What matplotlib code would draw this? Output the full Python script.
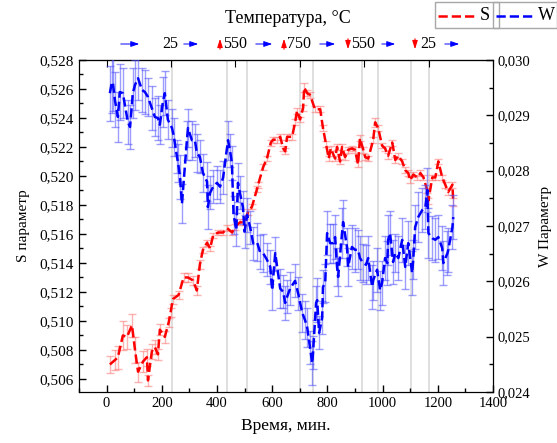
import numpy as np
import matplotlib.pyplot as plt
from matplotlib.ticker import MultipleLocator, FuncFormatter
from matplotlib.patches import Rectangle
from matplotlib.lines import Line2D

plt.rcParams['font.family'] = ['Liberation Serif', 'DejaVu Serif']

# S parameter (left axis)
s_time = [12, 30, 41, 59, 74, 92, 103, 114, 132, 146, 150, 164, 175, 186, 193, 211, 225, 232,
          240, 261, 279, 295, 313, 327, 338, 349, 364, 375, 386, 404, 422, 437, 455, 465, 483,
          501, 512, 527, 545, 549, 567, 581, 595, 603, 618, 629, 640, 647, 654, 672, 683, 690,
          701, 712, 716, 727, 737, 755, 774, 784, 795, 805, 812, 828, 835, 846, 853, 864, 875,
          889, 900, 911, 918, 930, 937, 948, 966, 973, 984, 998, 1009, 1020, 1035, 1046, 1057,
          1071, 1082, 1093, 1100, 1111, 1126, 1137, 1148, 1162, 1166, 1180, 1191, 1202, 1216,
          1227, 1238, 1253, 1256]
s_val = [0.5070, 0.5073, 0.5075, 0.5090, 0.5089, 0.5097, 0.5080, 0.5065, 0.5072, 0.5075, 0.5059,
         0.5079, 0.5082, 0.5077, 0.5094, 0.5089, 0.5099, 0.5106, 0.5115, 0.5118, 0.5130, 0.5130,
         0.5128, 0.5121, 0.5139, 0.5149, 0.5154, 0.5150, 0.5159, 0.5161, 0.5161, 0.5164, 0.5161,
         0.5165, 0.5168, 0.5168, 0.5175, 0.5179, 0.5191, 0.5194, 0.5206, 0.5212, 0.5223, 0.5225,
         0.5225, 0.5227, 0.5219, 0.5217, 0.5227, 0.5227, 0.5237, 0.5245, 0.5239, 0.5247, 0.5261,
         0.5257, 0.5256, 0.5246, 0.5246, 0.5233, 0.5222, 0.5212, 0.5219, 0.5212, 0.5220, 0.5210,
         0.5220, 0.5213, 0.5218, 0.5219, 0.5218, 0.5208, 0.5226, 0.5218, 0.5213, 0.5212, 0.5225,
         0.5237, 0.5233, 0.5221, 0.5219, 0.5214, 0.5223, 0.5211, 0.5214, 0.5210, 0.5204, 0.5202,
         0.5197, 0.5201, 0.5199, 0.5202, 0.5199, 0.5190, 0.5183, 0.5199, 0.5199, 0.5210, 0.5199,
         0.5194, 0.5189, 0.5194, 0.5182]
s_err = [0.0006, 0.0007, 0.0008, 0.0010, 0.0008, 0.0008, 0.0009, 0.0007, 0.0007, 0.0006, 0.0004,
         0.0005, 0.0005, 0.0004, 0.0004, 0.0004, 0.0003, 0.0003, 0.0003, 0.0003, 0.0003, 0.0003,
         0.0003, 0.0003, 0.0003, 0.0002, 0.0002, 0.0002, 0.0002, 0.0002, 0.0002, 0.0002, 0.0002,
         0.0002, 0.0002, 0.0002, 0.0002, 0.0002, 0.0002, 0.0002, 0.0002, 0.0002, 0.0002, 0.0002,
         0.0002, 0.0002, 0.0002, 0.0002, 0.0002, 0.0002, 0.0002, 0.0002, 0.0002, 0.0002, 0.0003,
         0.0002, 0.0002, 0.0002, 0.0002, 0.0002, 0.0002, 0.0002, 0.0002, 0.0002, 0.0002, 0.0002,
         0.0002, 0.0002, 0.0002, 0.0002, 0.0002, 0.0002, 0.0002, 0.0002, 0.0002, 0.0002, 0.0002,
         0.0003, 0.0002, 0.0002, 0.0002, 0.0002, 0.0002, 0.0002, 0.0002, 0.0002, 0.0002, 0.0002,
         0.0002, 0.0002, 0.0002, 0.0002, 0.0002, 0.0002, 0.0002, 0.0002, 0.0002, 0.0002, 0.0002,
         0.0002, 0.0002, 0.0002, 0.0003]

# W parameter (right axis)
w_time = [12, 19, 23, 30, 41, 48, 59, 77, 85, 95, 103, 114, 128, 139, 150, 164, 175, 186, 193,
          204, 211, 222, 237, 244, 255, 259, 266, 273, 291, 295, 309, 320, 327, 338, 349, 364,
          367, 375, 386, 400, 411, 422, 440, 447, 454, 460, 470, 476, 483, 494, 500, 509, 520,
          531, 545, 556, 567, 581, 593, 600, 611, 629, 640, 647, 654, 665, 683, 694, 709, 719,
          727, 737, 745, 748, 759, 763, 770, 781, 784, 792, 799, 810, 821, 828, 835, 839, 853,
          857, 871, 875, 889, 900, 911, 918, 930, 940, 948, 962, 966, 980, 991, 998, 1009, 1017,
          1020, 1027, 1038, 1046, 1057, 1071, 1082, 1093, 1107, 1111, 1118, 1129, 1144, 1155,
          1162, 1166, 1180, 1191, 1202, 1216, 1220, 1235, 1238, 1253, 1256]
w_val = [0.02940, 0.02960, 0.02958, 0.02928, 0.02897, 0.02942, 0.02940, 0.02888, 0.02879, 0.02940,
         0.02955, 0.02967, 0.02946, 0.02942, 0.02933, 0.02913, 0.02897, 0.02895, 0.02883, 0.02924,
         0.02940, 0.02892, 0.02877, 0.02861, 0.02825, 0.02814, 0.02789, 0.02740, 0.02855, 0.02877,
         0.02855, 0.02855, 0.02832, 0.02825, 0.02796, 0.02780, 0.02734, 0.02760, 0.02771, 0.02778,
         0.02771, 0.02787, 0.02855, 0.02837, 0.02814, 0.02720, 0.02693, 0.02778, 0.02760, 0.02734,
         0.02690, 0.02720, 0.02698, 0.02669, 0.02671, 0.02653, 0.02651, 0.02639, 0.02626, 0.02584,
         0.02651, 0.02587, 0.02581, 0.02561, 0.02572, 0.02587, 0.02601, 0.02578, 0.02543, 0.02530,
         0.02516, 0.02481, 0.02452, 0.02471, 0.02561, 0.02566, 0.02507, 0.02534, 0.02590, 0.02597,
         0.02687, 0.02669, 0.02669, 0.02680, 0.02626, 0.02608, 0.02687, 0.02707, 0.02662, 0.02626,
         0.02662, 0.02657, 0.02657, 0.02642, 0.02633, 0.02630, 0.02642, 0.02590, 0.02602, 0.02621,
         0.02584, 0.02597, 0.02642, 0.02633, 0.02675, 0.02687, 0.02635, 0.02651, 0.02642, 0.02675,
         0.02626, 0.02669, 0.02615, 0.02639, 0.02698, 0.02716, 0.02729, 0.02734, 0.02765, 0.02687,
         0.02678, 0.02675, 0.02680, 0.02660, 0.02633, 0.02651, 0.02657, 0.02698, 0.02716]
w_err = [0.00050, 0.00055, 0.00050, 0.00050, 0.00045, 0.00050, 0.00045, 0.00040, 0.00040, 0.00045,
         0.00045, 0.00040, 0.00040, 0.00040, 0.00035, 0.00040, 0.00035, 0.00040, 0.00035, 0.00045,
         0.00040, 0.00035, 0.00035, 0.00035, 0.00030, 0.00035, 0.00040, 0.00035, 0.00035, 0.00035,
         0.00035, 0.00030, 0.00035, 0.00030, 0.00035, 0.00035, 0.00040, 0.00030, 0.00030, 0.00030,
         0.00030, 0.00030, 0.00035, 0.00030, 0.00030, 0.00035, 0.00030, 0.00035, 0.00030, 0.00030,
         0.00030, 0.00030, 0.00030, 0.00030, 0.00035, 0.00030, 0.00035, 0.00030, 0.00030, 0.00035,
         0.00030, 0.00035, 0.00030, 0.00030, 0.00030, 0.00030, 0.00030, 0.00030, 0.00035, 0.00035,
         0.00035, 0.00030, 0.00040, 0.00030, 0.00030, 0.00040, 0.00030, 0.00030, 0.00030, 0.00035,
         0.00040, 0.00035, 0.00035, 0.00040, 0.00035, 0.00035, 0.00045, 0.00040, 0.00035, 0.00035,
         0.00040, 0.00040, 0.00035, 0.00040, 0.00035, 0.00035, 0.00040, 0.00040, 0.00035, 0.00040,
         0.00035, 0.00040, 0.00040, 0.00040, 0.00045, 0.00040, 0.00040, 0.00035, 0.00040, 0.00040,
         0.00040, 0.00040, 0.00040, 0.00035, 0.00040, 0.00045, 0.00040, 0.00040, 0.00040, 0.00045,
         0.00040, 0.00040, 0.00040, 0.00040, 0.00040, 0.00040, 0.00040, 0.00040, 0.00040]

# temperature step boundaries (grey lines)
step_times = [236, 436, 509, 700, 748, 927, 982, 1103, 1167]

comma3 = FuncFormatter(lambda v, p: f"{v:.3f}".replace('.', ','))

fig = plt.figure(figsize=(5.57, 4.43), dpi=100)
ax = fig.add_axes([0.1418, 0.1151, 0.7433, 0.7495])

for t in step_times:
    ax.axvline(t, color='#dcdcdc', lw=1.3, zorder=0)

ax.errorbar(s_time, s_val, yerr=s_err, color='red', ls='--', lw=1.8,
            ecolor=(1, 0.45, 0.45, 0.55), elinewidth=1, capsize=3, capthick=1, zorder=3)
ax.set_xlim(-100, 1400)
ax.set_ylim(0.5051, 0.528)
ax.xaxis.set_major_locator(MultipleLocator(200))
ax.xaxis.set_minor_locator(MultipleLocator(100))
ax.yaxis.set_major_locator(MultipleLocator(0.002))
ax.yaxis.set_minor_locator(MultipleLocator(0.001))
ax.yaxis.set_major_formatter(comma3)
ax.tick_params(which='both', direction='in', top=False, right=False)
ax.tick_params(which='major', length=5, width=1)
ax.tick_params(which='minor', length=3, width=1)
ax.tick_params(axis='y', labelsize=11)
ax.tick_params(axis='x', labelsize=10.5)
ax.set_xlabel('Время, мин.', fontsize=12.5, labelpad=6)
ax.set_ylabel('S параметр', fontsize=11, labelpad=7)

ax2 = ax.twinx()
ax2.errorbar(w_time, w_val, yerr=w_err, color='blue', ls='--', lw=1.8,
             ecolor=(0.3, 0.3, 1, 0.55), elinewidth=1, capsize=3, capthick=1, zorder=3)
ax2.set_ylim(0.024, 0.030)
ax2.yaxis.set_major_locator(MultipleLocator(0.001))
ax2.yaxis.set_minor_locator(MultipleLocator(0.0005))
ax2.yaxis.set_major_formatter(comma3)
ax2.tick_params(which='both', direction='in', labelsize=10.5)
ax2.tick_params(which='major', length=5, width=1)
ax2.tick_params(which='minor', length=3, width=1)
ax2.set_ylabel('W Параметр', fontsize=11, labelpad=6)

top = ax.secondary_xaxis('top')
top.set_xticks(np.linspace(0, 1400, 7))
top.tick_params(direction='in', length=5, labeltop=False)

# temperature programme annotation
fig.text(0.517, 0.959, 'Температура, °C', ha='center', va='center', fontsize=13)
ty = 443 - 44
for x0, x1 in [(118, 142), (181, 201), (253, 275), (317, 338), (379, 398), (442, 462)]:
    fig.add_artist(plt.Annotation('', xy=(x1, ty), xytext=(x0, ty), xycoords='figure pixels',
                                  arrowprops=dict(arrowstyle='-|>,head_length=0.5,head_width=0.17',
                                                  color='blue', lw=0.7)))
for xc, lab in [(170, '25'), (235, '550'), (299, '750'), (363, '550'), (428, '25')]:
    fig.text(xc / 557, ty / 443, lab, ha='center', va='center', fontsize=11.5)
for xa, up in [(220, True), (284, True), (348, False), (415, False)]:
    y0, y1 = (443 - 52, 443 - 36) if up else (443 - 36, 443 - 52)
    fig.add_artist(plt.Annotation('', xy=(xa, y1), xytext=(xa, y0), xycoords='figure pixels',
                                  arrowprops=dict(arrowstyle='-|>,head_length=0.5,head_width=0.16',
                                                  color='red', lw=0.8)))

# legend boxes
for bx, col, lab in [(435, 'red', 'S'), (493, 'blue', 'W')]:
    fig.add_artist(Rectangle((bx / 557, 1 - 28 / 443), 64 / 557, 26 / 443, transform=fig.transFigure,
                             fill=False, edgecolor='#a8a8a8', lw=1))
    fig.add_artist(Line2D([(bx + 3) / 557, (bx + 42) / 557], [1 - 16 / 443] * 2,
                          transform=fig.transFigure, color=col, ls='--', lw=1.8))
    fig.text((bx + 45) / 557, 1 - 16 / 443, lab, ha='left', va='center', fontsize=13)

fig.savefig('out.png', dpi=100)
